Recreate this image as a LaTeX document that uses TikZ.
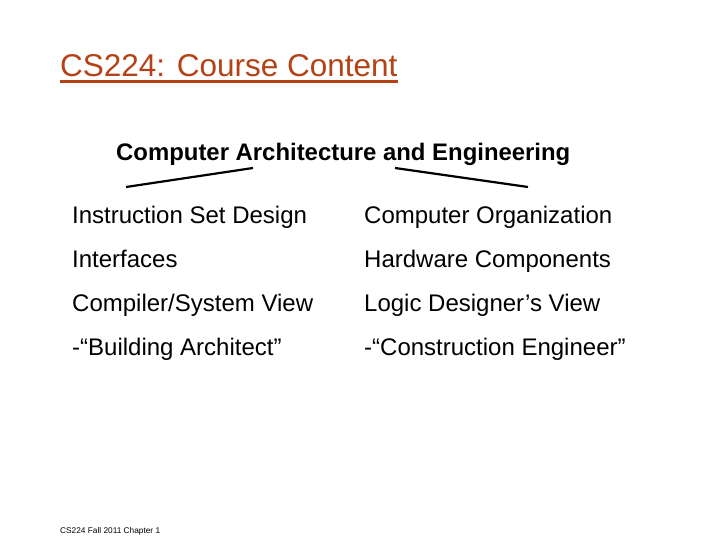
\documentclass[tikz,border=0pt]{standalone}
\usepackage{fontspec}
\setmainfont{Liberation Sans}
\usetikzlibrary{calc}
\definecolor{rust}{RGB}{180,66,22}
\begin{document}
\begin{tikzpicture}[x=1pt,y=-1pt,
  txt/.style={anchor=base west,inner sep=0pt,font=\fontsize{24}{28}\selectfont},
  branch/.style={line width=2.2pt,black}]
\useasboundingbox (0,0) rectangle (720,540);
\node[anchor=base west,inner sep=0pt,text=rust,font=\fontsize{31.5}{38}\selectfont] (title) at (60,76.5) {CS224: Course Content};
\draw[rust,line width=2.4pt] ($(title.base west)+(0,5)$) -- ($(title.base east)+(0,5)$);
\node[txt,font=\fontsize{23.9}{28}\selectfont\bfseries] (head) at (116,160.5) {Computer Architecture and Engineering};
\coordinate (la) at (253,168);
\coordinate (lb) at (126,187);
\coordinate (ra) at (395,168);
\coordinate (rb) at (528,187);
\draw[branch] (la) -- (lb);
\draw[branch] (ra) -- (rb);
\node[txt] (l1) at (72,223.5) {Instruction Set Design};
\node[txt] (l2) at (72,267.5) {Interfaces};
\node[txt] (l3) at (72,311.5) {Compiler/System View};
\node[txt] (l4) at (72,355) {-“Building Architect”};
\node[txt] (r1) at (364,223.5) {Computer Organization};
\node[txt] (r2) at (364,267.5) {Hardware Components};
\node[txt] (r3) at (364,311.5) {Logic Designer’s View};
\node[txt] (r4) at (364,355) {-“Construction Engineer”};
\node[anchor=base west,inner sep=0pt,font=\fontsize{8.3}{10}\selectfont] (foot) at (60,533) {CS224 Fall 2011 Chapter 1};
\end{tikzpicture}
\end{document}
